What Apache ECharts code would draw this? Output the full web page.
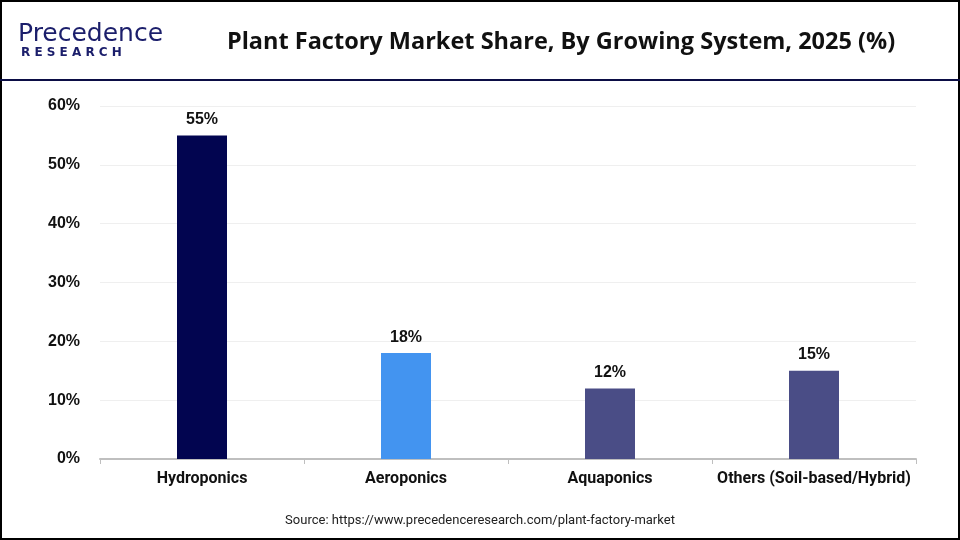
<!DOCTYPE html>
<html><head><meta charset="utf-8">
<script src="https://cdn.jsdelivr.net/npm/echarts@6/dist/echarts.min.js"></script>
<style>html,body{margin:0;padding:0;background:#fff}#c{width:960px;height:540px}</style>
</head><body><div id="c"></div>
<script>
const categories = ['Hydroponics', 'Aeroponics', 'Aquaponics', 'Others (Soil-based/Hybrid)'];
const shares = [55, 18, 12, 15];
const barColors = ['#020550', '#4394F0', '#4A4D86', '#4A4D86'];
const yTicks = [0, 10, 20, 30, 40, 50, 60];

const chart = echarts.init(document.getElementById('c'));
chart.setOption({
  animation: false,
  backgroundColor: '#fff',
  graphic: [
    { type: 'rect', shape: { x: 1, y: 1, width: 958, height: 538 }, style: { fill: 'none', stroke: '#000', lineWidth: 2 } },
    { type: 'rect', shape: { x: 0, y: 79, width: 960, height: 2 }, style: { fill: '#0B0D45' } },
    { type: 'text', x: 18, y: 22, style: { text: 'Precedence', font: '500 25px "DejaVu Sans", sans-serif', fill: '#1B1E6B' } },
    { type: 'text', x: 21, y: 47, style: { text: 'R E S E A R C H', font: 'bold 12px "DejaVu Sans", sans-serif', fill: '#1B1E6B' } },
    { type: 'text', x: 561, y: 42, style: { text: 'Plant Factory Market Share, By Growing System, 2025 (%)', font: 'bold 23.5px "Open Sans", "Liberation Sans", sans-serif', fill: '#111', align: 'center', verticalAlign: 'middle' } },
    { type: 'text', x: 480, y: 521, style: { text: 'Source: https://www.precedenceresearch.com/plant-factory-market', font: '13px Roboto, "Liberation Sans", sans-serif', fill: '#222', align: 'center', verticalAlign: 'middle' } }
  ],
  grid: { left: 100, right: 44, top: 106, bottom: 81 },
  xAxis: {
    type: 'category',
    data: categories,
    axisLine: { lineStyle: { color: '#BFBFBF', width: 2 } },
    axisTick: { show: true, interval: 0, length: 5, lineStyle: { color: '#BFBFBF' } },
    axisLabel: { interval: 0, color: '#111', fontWeight: 'bold', fontSize: 16, margin: 12, fontFamily: 'Roboto, "Liberation Sans", sans-serif' }
  },
  yAxis: {
    type: 'value',
    min: 0, max: 60, interval: 10,
    axisLine: { show: false },
    axisTick: { show: false },
    splitLine: { lineStyle: { color: '#EFEFEF' } },
    axisLabel: { formatter: v => yTicks.includes(v) ? v + '%' : '', color: '#111', fontWeight: 'bold', fontSize: 16, margin: 20, fontFamily: '"Liberation Sans", Arial, sans-serif' }
  },
  series: [{
    type: 'bar',
    barWidth: 50,
    data: shares.map((v, i) => ({ value: v, itemStyle: { color: barColors[i] } })),
    label: { show: true, position: 'top', distance: 8, formatter: p => p.value + '%', color: '#111', fontWeight: 'bold', fontSize: 16, fontFamily: '"Liberation Sans", Arial, sans-serif' }
  }]
});
</script></body></html>
